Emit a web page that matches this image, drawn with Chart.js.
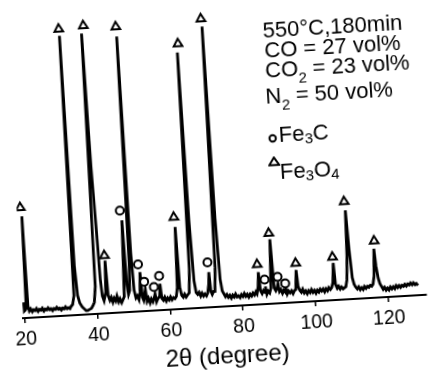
<!DOCTYPE html>
<html>
<head>
<meta charset="utf-8">
<script src="https://cdn.jsdelivr.net/npm/chart.js@4.4.0/dist/chart.umd.min.js"></script>
<style>
  html, body { margin: 0; padding: 0; background: #fff; overflow: hidden; width: 430px; height: 372px; }
  /* the scan is slightly rotated/skewed, so the whole sheet is too */
  #sheet { position: absolute; left: 0; top: 0; width: 440px; height: 400px;
    transform-origin: 25px 318px; transform: matrix(0.9983, -0.058, 0.06, 0.998, 0, 0); }
  #xrd { position: absolute; left: 0; top: 0; }
  .note { position: absolute; font-family: 'Liberation Sans', Arial, sans-serif; font-size: 22px;
    line-height: 22px; color: #000; white-space: nowrap; }
  .sub { font-size: 15px; position: relative; }
  .sym { position: absolute; }
</style>
</head>
<body>
<div id="sheet">
  <canvas id="xrd" width="440" height="400"></canvas>
  <div class="note" style="left:279.6px; top:33.7px">550°C,180min</div>
  <div class="note" style="left:280px; top:53.7px">CO = 27 vol%</div>
  <div class="note" style="left:279.5px; top:74.2px">CO<span class="sub" style="top:7px">2</span> = 23 vol%</div>
  <div class="note" style="left:278.3px; top:99.5px">N<span class="sub" style="top:7px">2</span> = 50 vol%</div>
  <svg class="sym" style="left:278px; top:148.3px" width="10" height="10">
    <circle cx="5" cy="5" r="3.2" fill="#fff" stroke="#000" stroke-width="2"/>
  </svg>
  <div class="note" style="left:289.3px; top:138.9px">Fe<span class="sub" style="top:3px">3</span>C</div>
  <svg class="sym" style="left:276.7px; top:170.6px" width="12" height="10">
    <polygon points="6,1.2 11,8.8 1,8.8" fill="#fff" stroke="#000" stroke-width="2"/>
  </svg>
  <div class="note" style="left:288.2px; top:176.4px">Fe<span class="sub" style="top:3px">3</span>O<span class="sub" style="top:3px">4</span></div>
</div>
<script>
// diffraction pattern, 2theta (deg) and intensity
const twoTheta = [
  19.8, 19.9, 20.2, 20.5, 20.8, 21.0, 21.3, 21.7, 22.1, 22.5, 22.9, 23.3, 23.7, 24.1, 24.5, 24.9,
  25.3, 25.7, 26.1, 26.5, 26.9, 27.3, 27.7, 28.1, 28.5, 28.9, 29.3, 29.7, 30.1, 30.5, 30.9, 31.3,
  31.7, 32.1, 32.5, 32.8,
  33.3, 33.8, 34.1, 34.4, 34.8, 35.3, 35.9, 36.4, 36.9, 37.4, 37.9, 38.4, 38.9,
  39.3, 39.8, 40.2, 40.6, 41.0, 41.3, 41.6, 42.0,
  42.6, 42.9, 43.2, 43.6, 44.0, 44.4, 44.8, 45.2, 45.6, 46.0, 46.4, 46.8, 47.2,
  47.6, 48.2, 48.5, 48.8,
  49.2, 49.5, 49.8, 50.1, 50.4, 50.8, 51.2, 51.6,
  52.0, 52.3, 52.6, 52.9,
  53.2, 53.5, 53.8, 54.2, 54.6, 55.0, 55.4,
  55.8, 56.1, 56.4, 56.8,
  57.3, 57.6, 57.9, 58.3, 58.7, 59.1, 59.5, 59.9, 60.3, 60.7, 61.1, 61.5, 61.9,
  62.3, 62.7, 63.0, 63.4, 63.8, 64.2, 64.6, 65.0,
  65.5, 65.9, 66.2, 66.6, 67.0, 67.4, 67.8, 68.2, 68.6, 69.0, 69.4, 69.8, 70.2, 70.6,
  71.0, 71.2, 71.5, 71.8, 72.2,
  72.6, 73.0, 73.4, 73.8, 74.2, 74.6, 75.0, 75.4,
  75.8, 76.2, 76.6, 77.0, 77.4, 77.8, 78.2, 78.6, 79.0, 79.4, 79.8, 80.2, 80.6, 81.0, 81.4, 81.8,
  82.2, 82.6, 83.0, 83.4, 83.8, 84.1,
  84.5, 84.8, 85.1, 85.5, 85.9,
  86.3, 86.5, 86.8, 87.2, 87.6,
  88.0, 88.5, 88.9, 89.3, 89.6,
  90.0, 90.3, 90.7, 91.1, 91.5,
  91.9, 92.1, 92.4, 92.8, 93.2, 93.6, 94.0, 94.4, 94.8,
  95.2, 95.5, 95.9, 96.3, 96.7, 97.1, 97.5, 97.9, 98.3, 98.7, 99.1, 99.5, 99.9, 100.3, 100.7,
  101.1, 101.5, 101.9, 102.3, 102.7, 103.1, 103.5, 103.9, 104.3, 104.7,
  105.1, 105.5, 105.8, 106.2, 106.6, 107.0, 107.4, 107.8, 108.2, 108.6,
  109.0, 109.4, 109.7, 110.1, 110.5, 110.9, 111.3, 111.7, 112.1, 112.5, 112.9, 113.3, 113.7,
  114.1, 114.5, 114.9, 115.3, 115.7, 116.1,
  116.5, 116.9, 117.2, 117.6, 118.0, 118.4, 118.8, 119.2, 119.6, 120.0, 120.4, 120.8, 121.2,
  121.6, 122.0, 122.4, 122.8, 123.2, 123.6, 124.0, 124.4, 124.8, 125.2, 125.6, 126.0, 126.4,
  126.8, 127.2, 127.6, 128.0, 128.4
];
const intensity = [
  16, 7, 8, 10, 104, 12, 7, 9, 6, 8, 7, 9, 6, 8, 7, 9,
  6, 8, 7, 9, 7, 8, 6, 8, 7, 9, 7, 8, 6, 8, 7, 9,
  7, 8, 7, 9,
  11, 20, 286, 50, 20, 12, 8, 6, 4, 4, 5, 6, 9,
  12, 28, 287, 150, 90, 35, 18, 13,
  22, 54, 18, 13, 16, 11, 15, 12, 17, 11, 14, 10, 13,
  16, 94, 28, 18,
  22, 50, 282, 60, 22, 14, 16, 12,
  20, 40, 14, 11,
  16, 22, 10, 13, 8, 12, 9,
  13, 17, 9, 12,
  14, 27, 12, 10, 13, 9, 12, 10, 13, 10, 12, 11, 13,
  22, 84, 22, 14, 12, 15, 12, 14,
  16, 40, 262, 90, 28, 16, 14, 16, 12, 15, 12, 14, 12, 15,
  24, 36, 16, 13, 16,
  16, 40, 287, 90, 28, 16, 13, 10,
  12, 9, 11, 8, 11, 9, 12, 9, 10, 8, 11, 9, 12, 9, 11, 8,
  11, 9, 12, 10, 13, 11,
  18, 33, 14, 11, 14,
  12, 18, 10, 13, 11,
  16, 66, 16, 13, 15,
  20, 12, 14, 10, 13,
  11, 15, 9, 12, 10, 12, 9, 12, 13,
  33, 16, 12, 10, 13, 9, 11, 8, 11, 9, 12, 9, 11, 8, 11,
  9, 12, 10, 12, 9, 12, 10, 13, 11, 13,
  18, 38, 16, 12, 14, 11, 13, 11, 12, 13,
  20, 45, 91, 50, 22, 15, 12, 10, 12, 9, 11, 9, 12,
  10, 12, 11, 13, 12, 14,
  22, 50, 32, 20, 14, 11, 8, 10, 7, 9, 7, 10, 8,
  10, 8, 11, 9, 11, 9, 11, 10, 12, 10, 12, 11, 13,
  11, 13, 11, 12, 10
];

// phase markers (angle, height of the symbol)
const fe3o4Angle = [20.5, 34.0, 40.8, 49.7, 66.5, 73.2, 42.8, 62.5, 84.6, 88.3, 95.2, 105.4, 109.5, 117.1];
const fe3o4Mark  = [113, 293, 295, 292, 271, 295, 59, 94, 41, 72, 40, 44, 100, 58];
const fe3cAngle = [47.8, 51.9, 53.3, 57.5, 55.9, 71.0, 86.4, 90.0, 92.0];
const fe3cMark  = [104, 48, 30, 35, 24, 46, 25, 27, 20];

const xTicks = [20, 40, 60, 80, 100, 120];

const font = "'Liberation Sans', Arial, sans-serif";

const pts = (xs, ys) => xs.map((x, i) => ({ x: x, y: ys[i] }));

new Chart(document.getElementById('xrd').getContext('2d'), {
  type: 'scatter',
  data: {
    datasets: [
      {
        label: 'Fe3O4',
        data: pts(fe3o4Angle, fe3o4Mark),
        pointStyle: 'triangle',
        pointRadius: 5,
        pointBorderWidth: 2,
        pointBackgroundColor: '#fff',
        pointBorderColor: '#000',
        showLine: false,
      },
      {
        label: 'Fe3C',
        data: pts(fe3cAngle, fe3cMark),
        pointStyle: 'circle',
        pointRadius: 4,
        pointBorderWidth: 2,
        pointBackgroundColor: '#fff',
        pointBorderColor: '#000',
        showLine: false,
      },
      {
        label: 'XRD',
        data: pts(twoTheta, intensity),
        showLine: true,
        borderColor: '#000',
        borderWidth: 2.8,
        pointRadius: 0,
        tension: 0,
      },
    ],
  },
  options: {
    responsive: false,
    animation: false,
    devicePixelRatio: 1,
    layout: { padding: { left: 23.2, right: 13.2, top: 0, bottom: 0 } },
    plugins: { legend: { display: false }, tooltip: { enabled: false } },
    scales: {
      x: {
        type: 'linear',
        min: 19.5,
        max: 130.5,
        afterBuildTicks: (scale) => { scale.ticks = xTicks.map((v) => ({ value: v })); },
        afterFit: (scale) => { scale.height = 82; },
        border: { display: true, color: '#000', width: 2 },
        grid: { display: true, drawOnChartArea: false, drawTicks: true, tickLength: 5, color: '#000', lineWidth: 1.5 },
        ticks: { color: '#000', padding: 5, maxRotation: 0, font: { family: font, size: 19.5 } },
        title: {
          display: true,
          text: '2θ (degree)',
          color: '#000',
          font: { family: font, size: 24 },
          padding: { top: 0, bottom: 17.6 },
        },
      },
      y: { display: false, min: 0, max: 318 },
    },
  },
});
</script>
</body>
</html>
